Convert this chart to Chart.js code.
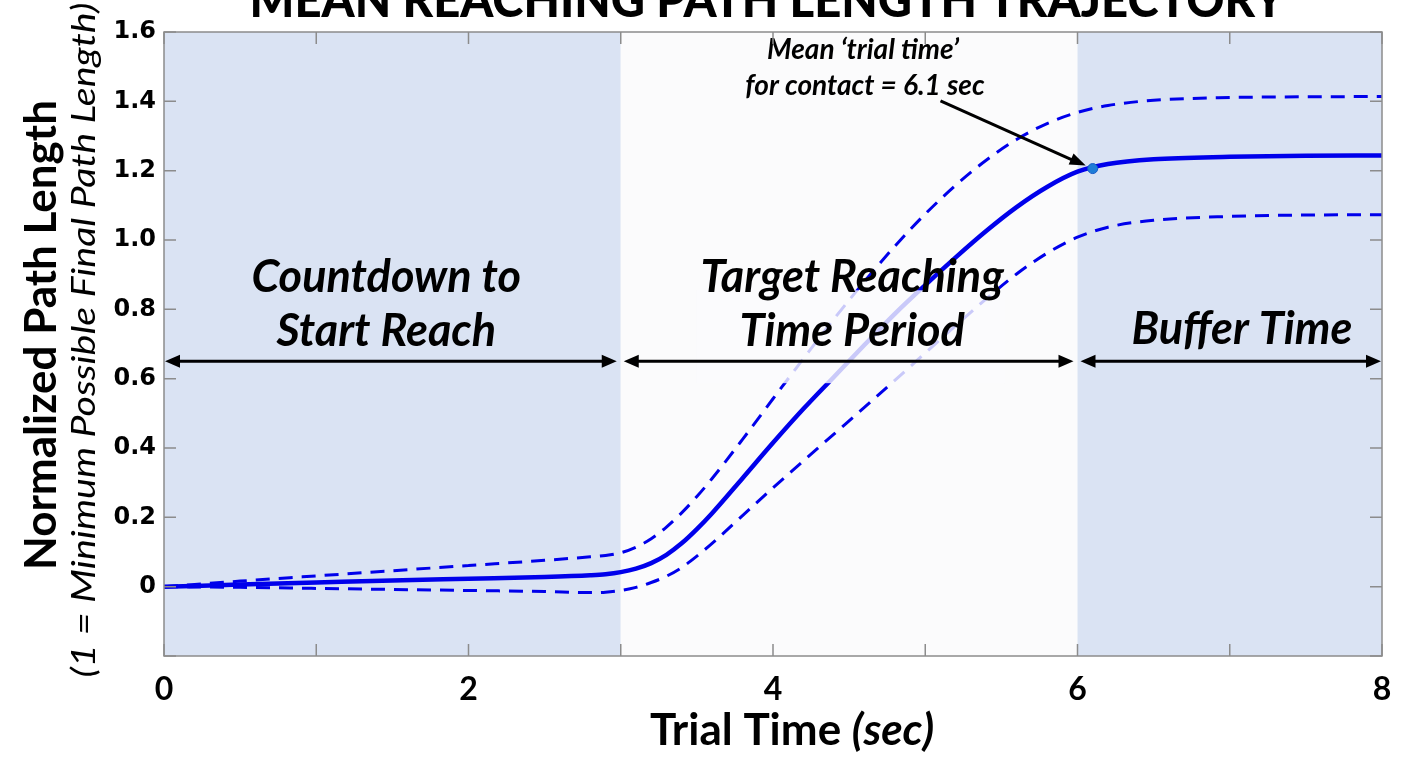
<!DOCTYPE html>
<html>
<head>
<meta charset="utf-8">
<style>
  html, body { margin: 0; padding: 0; background: #fff; }
</style>
</head>
<body>
<canvas id="pathChart" width="1410" height="757"></canvas>
<script src="https://cdn.jsdelivr.net/npm/chart.js"></script>
<script>
    // trial time (sec) and the three curves
    const trialTime = [0, 0.5, 1, 1.5, 2, 2.5, 2.8, 2.9, 3.0, 3.1, 3.2, 3.3, 3.4, 3.5, 3.6, 3.8, 4.0, 4.2, 4.4, 4.6, 4.8, 5.0, 5.2, 5.4, 5.6, 5.8, 6.0, 6.2, 6.5, 7.0, 7.5, 8.0];
    const meanPath = [0, 0.006, 0.012, 0.018, 0.023, 0.028, 0.033, 0.036, 0.042, 0.052, 0.068, 0.092, 0.125, 0.166, 0.212, 0.313, 0.415, 0.513, 0.605, 0.697, 0.787, 0.870, 0.950, 1.026, 1.095, 1.153, 1.197, 1.219, 1.233, 1.240, 1.243, 1.244];
    const upperPath = [0, 0.016, 0.031, 0.046, 0.061, 0.076, 0.086, 0.090, 0.098, 0.114, 0.138, 0.172, 0.213, 0.260, 0.312, 0.425, 0.542, 0.658, 0.772, 0.880, 0.982, 1.075, 1.158, 1.230, 1.290, 1.336, 1.368, 1.388, 1.403, 1.411, 1.413, 1.414];
    const lowerPath = [0, -0.002, -0.005, -0.008, -0.011, -0.014, -0.017, -0.016, -0.011, -0.002, 0.012, 0.030, 0.055, 0.088, 0.125, 0.205, 0.285, 0.363, 0.440, 0.517, 0.595, 0.674, 0.753, 0.830, 0.902, 0.962, 1.008, 1.037, 1.057, 1.068, 1.072, 1.073];

    // mean contact point
    const contactTime = [6.1];
    const contactPath = [1.206];

    // phases of a trial
    const phaseStart = [0, 3, 6];
    const phaseEnd = [3, 6, 8];
    const phaseLabels = [['Countdown to', 'Start Reach'], ['Target Reaching', 'Time Period'], ['Buffer Time']];

    const xTickLabels = ['0', '', '2', '', '4', '', '6', '', '8'];

    function pts(xs, ys) {
        return xs.map((x, i) => ({ x: x, y: ys[i] }));
    }

    function arrowHead(ctx, x1, y1, x2, y2, len, half) {
        const a = Math.atan2(y2 - y1, x2 - x1);
        ctx.beginPath();
        ctx.moveTo(x2, y2);
        ctx.lineTo(x2 - len * Math.cos(a) + half * Math.sin(a), y2 - len * Math.sin(a) - half * Math.cos(a));
        ctx.lineTo(x2 - len * Math.cos(a) - half * Math.sin(a), y2 - len * Math.sin(a) + half * Math.cos(a));
        ctx.closePath();
        ctx.fill();
    }

    const BLUE = 'rgb(0, 0, 235)';
    const SHADE = 'rgb(218, 227, 243)';
    const FONT = 'Lato, "Open Sans", sans-serif';

    const decorPlugin = {
        id: 'decor',
        beforeDraw(chart) {
            const ctx = chart.ctx;
            const xs = chart.scales.x;
            const area = chart.chartArea;
            ctx.save();
            ctx.fillStyle = '#fff';
            ctx.fillRect(0, 0, chart.width, chart.height);
            phaseStart.forEach((s, i) => {
                ctx.fillStyle = i === 1 ? 'rgb(251, 251, 252)' : SHADE;
                const l = xs.getPixelForValue(s), r = xs.getPixelForValue(phaseEnd[i]);
                ctx.fillRect(l, area.top, r - l, area.bottom - area.top);
            });
            ctx.restore();
        },
        afterDatasetsDraw(chart) {
            const ctx = chart.ctx;
            const xs = chart.scales.x, ys = chart.scales.y;
            const area = chart.chartArea;
            ctx.save();

            // faded box behind the middle label
            ctx.fillStyle = 'rgba(251, 251, 252, 0.8)';
            const bx = xs.getPixelForValue(3.5), bx2 = xs.getPixelForValue(5.52);
            const by = ys.getPixelForValue(0.855), by2 = ys.getPixelForValue(0.587);
            ctx.fillRect(bx, by, bx2 - bx, by2 - by);

            // double-headed phase arrows
            const ay = ys.getPixelForValue(0.65);
            ctx.strokeStyle = '#000';
            ctx.fillStyle = '#000';
            ctx.lineWidth = 3;
            phaseStart.forEach((s, i) => {
                const l = xs.getPixelForValue(s) + (i === 0 ? 1 : 3);
                const r = xs.getPixelForValue(phaseEnd[i]) - (i === 2 ? 1 : 4);
                ctx.beginPath();
                ctx.moveTo(l + 8, ay);
                ctx.lineTo(r - 8, ay);
                ctx.stroke();
                arrowHead(ctx, r, ay, l, ay, 15, 6.5);
                arrowHead(ctx, l, ay, r, ay, 15, 6.5);
            });

            // phase labels
            ctx.font = 'italic bold 45px ' + FONT;
            ctx.textAlign = 'center';
            ctx.textBaseline = 'middle';
            const labelX = [1.46, 4.52, 7.08];
            phaseLabels.forEach((lines, i) => {
                const cx = xs.getPixelForValue(labelX[i]);
                if (lines.length === 2) {
                    ctx.fillText(lines[0], cx, 277);
                    ctx.fillText(lines[1], cx, 331);
                } else {
                    ctx.fillText(lines[0], cx, 329);
                }
            });

            // callout for the contact point
            ctx.font = 'italic bold 28px ' + FONT;
            ctx.fillText('Mean \u2018trial time\u2019', 863, 50);
            ctx.fillText('for contact = 6.1 sec', 865, 86);
            const sx = xs.getPixelForValue(5.1), sy = ys.getPixelForValue(1.401);
            const ex = xs.getPixelForValue(contactTime[0]) - 7, ey = ys.getPixelForValue(contactPath[0]) - 3;
            ctx.lineWidth = 3;
            ctx.beginPath();
            ctx.moveTo(sx, sy);
            ctx.lineTo(ex - 12, ey - 5);
            ctx.stroke();
            arrowHead(ctx, sx, sy, ex, ey, 16, 6);

            // frame and inward ticks
            ctx.strokeStyle = '#8c8c8c';
            ctx.lineWidth = 1.5;
            ctx.strokeRect(area.left, area.top, area.right - area.left, area.bottom - area.top);
            ctx.beginPath();
            for (let v = 0; v <= 8; v++) {
                const px = xs.getPixelForValue(v);
                ctx.moveTo(px, area.bottom); ctx.lineTo(px, area.bottom - 12);
                ctx.moveTo(px, area.top); ctx.lineTo(px, area.top + 12);
            }
            for (let k = -1; k <= 8; k++) {
                const py = ys.getPixelForValue(k * 0.2);
                ctx.moveTo(area.left, py); ctx.lineTo(area.left + 12, py);
                ctx.moveTo(area.right, py); ctx.lineTo(area.right - 12, py);
            }
            ctx.stroke();
            ctx.restore();
        },
        afterDraw(chart) {
            const ctx = chart.ctx;
            ctx.save();
            ctx.fillStyle = '#000';
            ctx.textBaseline = 'alphabetic';

            // title, cut off at the top of the figure
            ctx.font = '900 50px ' + FONT;
            const title = 'MEAN REACHING PATH LENGTH TRAJECTORY';
            const tw = ctx.measureText(title).width;
            ctx.translate(767, 17);
            ctx.scale(1035 / tw, 1);
            ctx.textAlign = 'center';
            ctx.fillText(title, 0, 0);
            ctx.setTransform(1, 0, 0, 1, 0, 0);

            // x axis title: bold + bold italic
            const p1 = 'Trial Time ', p2 = '(sec)';
            ctx.font = 'bold 44px ' + FONT;
            const w1 = ctx.measureText(p1).width;
            ctx.font = 'italic bold 44px ' + FONT;
            const w2 = ctx.measureText(p2).width;
            const x0 = 792 - (w1 + w2) / 2;
            ctx.textAlign = 'left';
            ctx.font = 'bold 44px ' + FONT;
            ctx.fillText(p1, x0, 745);
            ctx.font = 'italic bold 44px ' + FONT;
            ctx.fillText(p2, x0 + w1, 745);

            // y axis titles
            ctx.textAlign = 'center';
            ctx.textBaseline = 'middle';
            ctx.translate(42, 335);
            ctx.rotate(-Math.PI / 2);
            ctx.font = 'bold 44px ' + FONT;
            ctx.fillText('Normalized Path Length', 0, 0);
            ctx.setTransform(1, 0, 0, 1, 0, 0);

            const sub = '(1 = Minimum Possible Final Path Length)';
            ctx.font = 'italic 33px ' + FONT;
            const sw = ctx.measureText(sub).width;
            ctx.translate(84, 340);
            ctx.rotate(-Math.PI / 2);
            ctx.scale(675 / sw, 1);
            ctx.fillText(sub, 0, 0);
            ctx.restore();
        }
    };

    const ctx = document.getElementById('pathChart');
    new Chart(ctx, {
        type: 'line',
        data: {
            datasets: [
                {
                    label: 'Contact',
                    data: pts(contactTime, contactPath),
                    showLine: false,
                    pointRadius: 5,
                    pointBackgroundColor: 'rgb(30, 125, 215)',
                    pointBorderColor: 'rgb(20, 90, 200)',
                    pointBorderWidth: 1
                },
                {
                    label: 'Mean',
                    data: pts(trialTime, meanPath),
                    borderColor: BLUE,
                    borderWidth: 4.5,
                    pointRadius: 0,
                    cubicInterpolationMode: 'monotone'
                },
                {
                    label: 'Upper',
                    data: pts(trialTime, upperPath),
                    borderColor: BLUE,
                    borderWidth: 3,
                    borderDash: [14, 9],
                    pointRadius: 0,
                    cubicInterpolationMode: 'monotone'
                },
                {
                    label: 'Lower',
                    data: pts(trialTime, lowerPath),
                    borderColor: BLUE,
                    borderWidth: 3,
                    borderDash: [14, 9],
                    pointRadius: 0,
                    cubicInterpolationMode: 'monotone'
                }
            ]
        },
        options: {
            responsive: false,
            animation: false,
            devicePixelRatio: 1,
            layout: { padding: { left: 0, right: 28, top: 32, bottom: 0 } },
            plugins: {
                legend: { display: false },
                tooltip: { enabled: false }
            },
            scales: {
                x: {
                    type: 'linear',
                    min: 0,
                    max: 8,
                    grid: { display: false },
                    border: { display: false },
                    afterFit(scale) { scale.height = 101; },
                    ticks: {
                        stepSize: 1,
                        autoSkip: false,
                        maxRotation: 0,
                        padding: 6,
                        color: '#000',
                        font: { family: FONT, size: 32, weight: 'bold' },
                        callback: function(value, index) {
                            return xTickLabels[index];
                        }
                    }
                },
                y: {
                    min: -0.2,
                    max: 1.6,
                    grid: { display: false },
                    border: { display: false },
                    afterFit(scale) { scale.width = 164; },
                    ticks: {
                        stepSize: 0.2,
                        padding: 0,
                        color: '#000',
                        font: { family: '"DejaVu Sans", Verdana, sans-serif', size: 24, weight: 'bold' },
                        callback: function(value) {
                            const v = Math.round(value * 10) / 10;
                            if (v < 0) return '';
                            return v === 0 ? '0' : v.toFixed(1);
                        }
                    }
                }
            }
        },
        plugins: [decorPlugin]
    });
</script>
</body>
</html>
